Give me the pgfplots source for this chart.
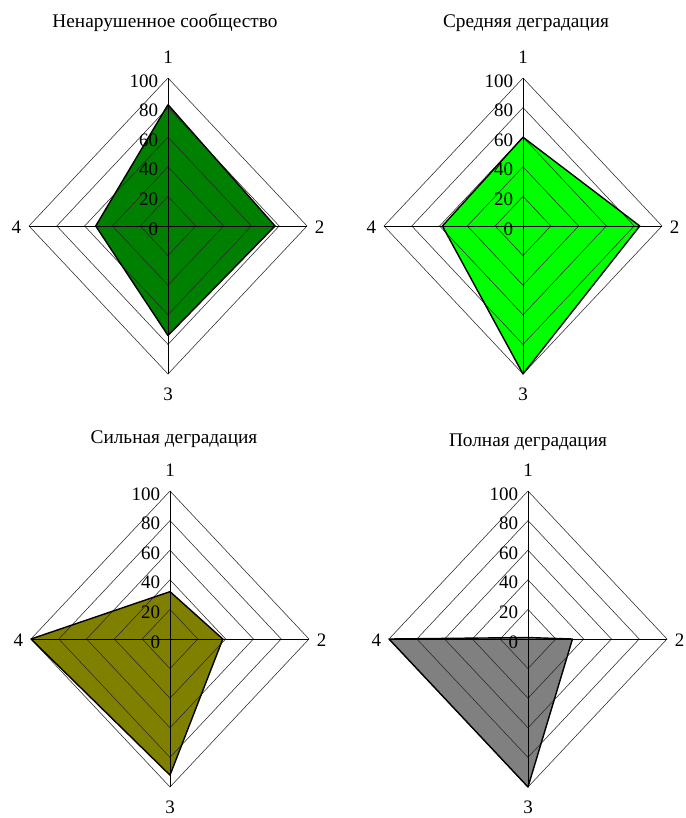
\documentclass[border=0pt]{standalone}
\usepackage{pgfplots}
\pgfplotsset{compat=1.18}
\usepackage{fontspec}
\setmainfont{Liberation Serif}
\definecolor{cA}{RGB}{0,128,0}
\definecolor{cB}{RGB}{0,255,0}
\definecolor{cC}{RGB}{128,128,0}
\definecolor{cD}{RGB}{128,128,128}
\definecolor{gridc}{RGB}{40,40,40}
\newcommand{\lbl}{\fontsize{19}{21}\selectfont}
\newcommand{\ttl}{\fontsize{19.3}{21}\selectfont}
% #1 cx, #2 cy, #3 colour, #4..#7 values on axes 1..4
\newcommand{\radar}[7]{%
\begin{axis}[hide axis, clip=false, x=1.39pt, y=1.48pt,
  xmin=-100, xmax=100, ymin=-100, ymax=100,
  anchor=center, at={(#1pt,-#2pt)}]
\addplot[fill=#3, draw=none] coordinates {(0,#4) (#5,0) (0,-#6) (-#7,0) (0,#4)};
\addplot[gridc, line width=0.55pt] coordinates {(0,20) (20,0) (0,-20) (-20,0) (0,20)};
\addplot[gridc, line width=0.55pt] coordinates {(0,40) (40,0) (0,-40) (-40,0) (0,40)};
\addplot[gridc, line width=0.55pt] coordinates {(0,60) (60,0) (0,-60) (-60,0) (0,60)};
\addplot[gridc, line width=0.55pt] coordinates {(0,80) (80,0) (0,-80) (-80,0) (0,80)};
\addplot[gridc, line width=0.55pt] coordinates {(0,100) (100,0) (0,-100) (-100,0) (0,100)};
\addplot[black, line width=0.7pt] coordinates {(0,-100) (0,100)};
\addplot[black, line width=0.7pt] coordinates {(-100,0) (100,0)};
\addplot[draw=black, line width=1.4pt, line join=round] coordinates {(0,#4) (#5,0) (0,-#6) (-#7,0) (0,#4)};
\node[anchor=east, font=\lbl, inner sep=0pt] at (axis cs:-7,-2) {0};
\node[anchor=east, font=\lbl, inner sep=0pt] at (axis cs:-7,18) {20};
\node[anchor=east, font=\lbl, inner sep=0pt] at (axis cs:-7,38) {40};
\node[anchor=east, font=\lbl, inner sep=0pt] at (axis cs:-7,58) {60};
\node[anchor=east, font=\lbl, inner sep=0pt] at (axis cs:-7,78) {80};
\node[anchor=east, font=\lbl, inner sep=0pt] at (axis cs:-7,98) {100};
\node[font=\lbl] at (axis cs:0,114) {1};
\node[font=\lbl] at (axis cs:109,-1) {2};
\node[font=\lbl] at (axis cs:0,-114) {3};
\node[font=\lbl] at (axis cs:-109,-1) {4};
\end{axis}}
\begin{document}
\begin{tikzpicture}
\useasboundingbox (0,0) rectangle (685pt,-818pt);
\radar{168}{226}{cA}{82}{77}{74}{52}
\radar{523}{226}{cB}{60}{84}{100}{58}
\radar{170}{639}{cC}{32}{38}{92}{100}
\radar{528}{639}{cD}{1}{32}{100}{100}
\node[font=\ttl] at (165pt,-23pt) {Ненарушенное сообщество};
\node[font=\ttl] at (526pt,-23pt) {Средняя деградация};
\node[font=\ttl] at (174pt,-439pt) {Сильная деградация};
\node[font=\ttl] at (528pt,-442pt) {Полная деградация};
\end{tikzpicture}
\end{document}
